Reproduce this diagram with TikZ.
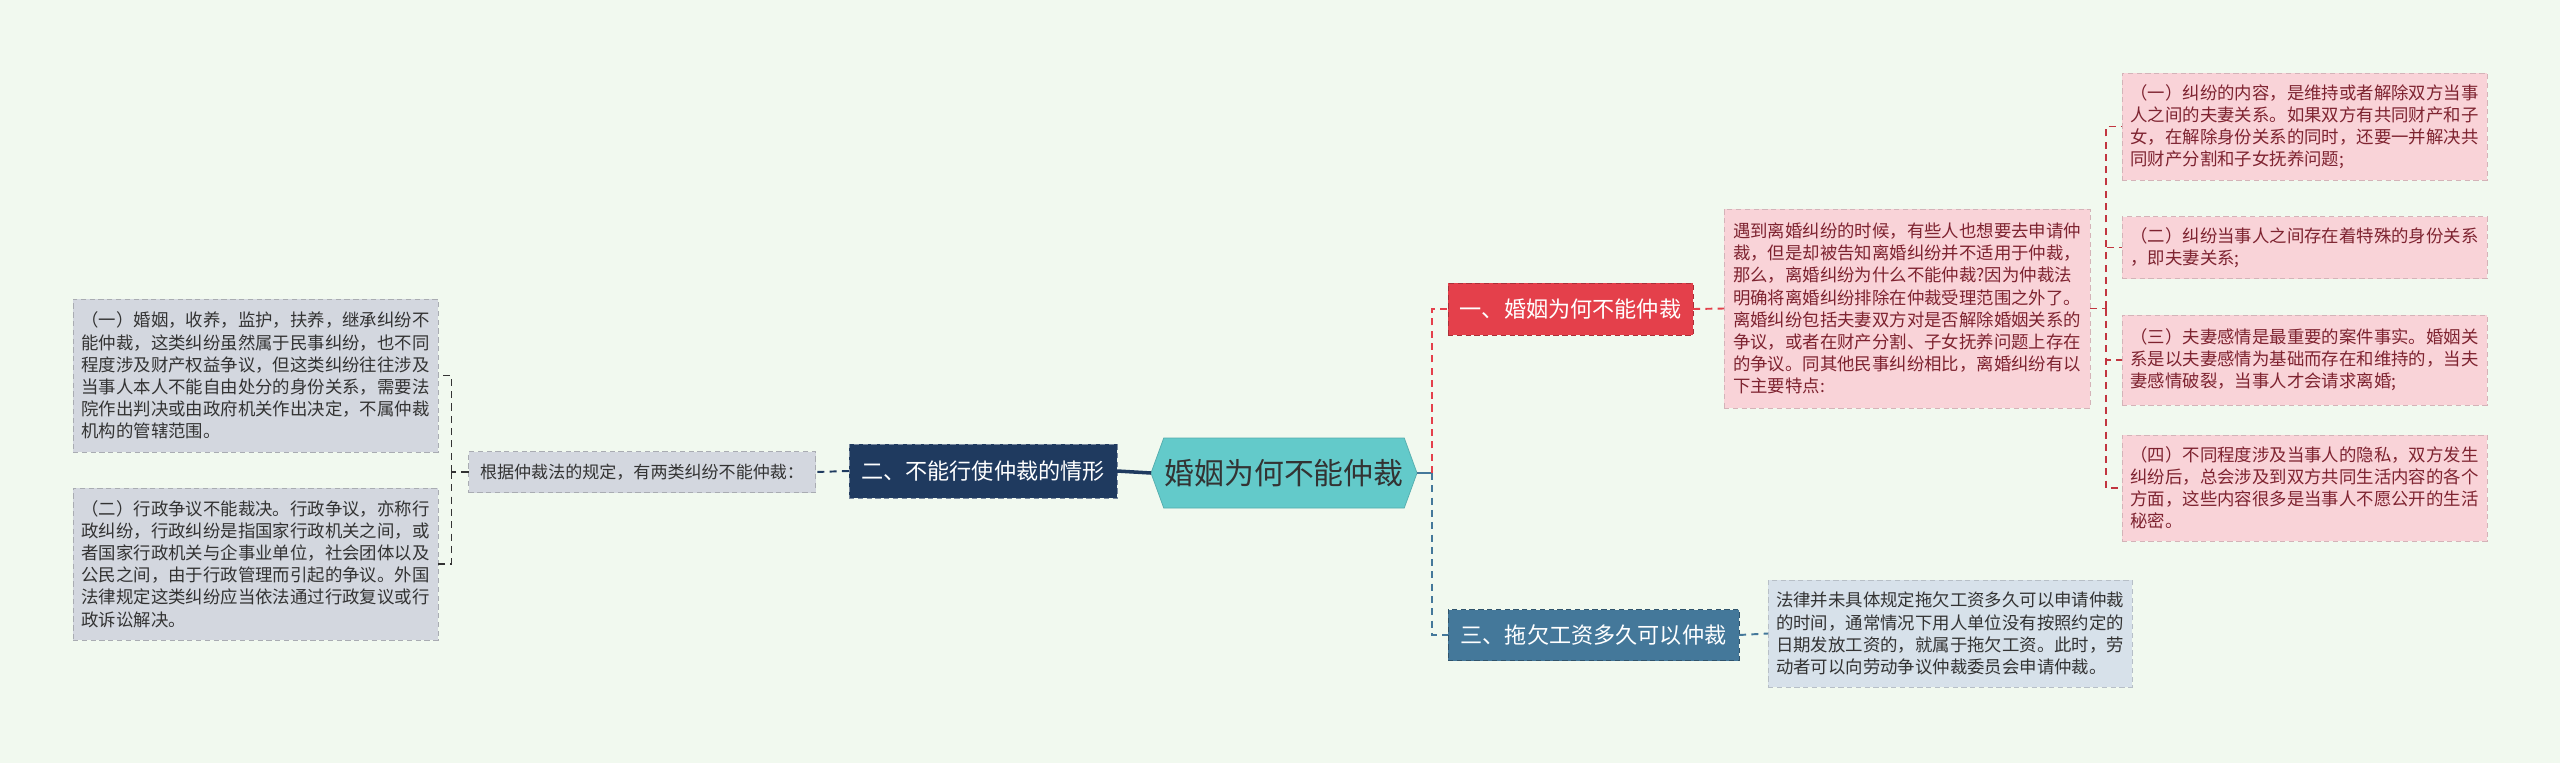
\documentclass[tikz,border=0pt]{standalone}
\usepackage{fontspec}
\setmainfont{Noto Sans CJK SC}
\usetikzlibrary{shapes.symbols}

\definecolor{bgmint}{HTML}{F1F9EF}
\definecolor{hubteal}{HTML}{63CACA}
\definecolor{navy}{HTML}{1F3A5F}
\definecolor{redsec}{HTML}{E4404B}
\definecolor{pinkbox}{HTML}{F9D3D8}
\definecolor{pinktext}{HTML}{7E2330}
\definecolor{steel}{HTML}{44789A}
\definecolor{greybox}{HTML}{D3D7DF}
\definecolor{bluebox}{HTML}{D7E1EA}
\definecolor{darktext}{HTML}{333333}

\begin{document}
\begin{tikzpicture}
[
	every node/.style={inner sep=0pt, outer sep=0pt},
	textbox/.style={rectangle, draw, dash pattern=on 3pt off 2pt, align=left,
		font=\fontsize{9.9pt}{12.6pt}\selectfont},
	secbox/.style={rectangle, draw, dash pattern=on 3pt off 2pt, text=white,
		font=\fontsize{12.6pt}{15pt}\selectfont},
	conn/.style={dash pattern=on 4pt off 3pt, line width=1.1pt}
]

	% background
	\fill[bgmint] (0,0) rectangle (51.2,-15.26);
	\useasboundingbox (0,0) rectangle (51.2,-15.26);

	% centre
	\node[signal, signal to=east and west, signal pointer angle=140,
		fill=hubteal, draw=hubteal!85!black, text=darktext,
		minimum width=5.32cm, minimum height=1.4cm,
		font=\fontsize{17pt}{20pt}\selectfont] (hub) at (25.68,-9.46) {婚姻为何不能仲裁};

	% left branch
	\node[secbox, fill=navy, draw=navy!60!white, minimum width=5.36cm, minimum height=1.08cm]
		(sec2) at (19.66,-9.42) {二、不能行使仲裁的情形};
	\node[textbox, fill=greybox, draw=greybox!80!black, text=darktext,
		minimum width=6.94cm, minimum height=0.82cm, font=\fontsize{9.7pt}{12pt}\selectfont]
		(rule) at (12.84,-9.44) {根据仲裁法的规定，有两类纠纷不能仲裁：};
	\node[textbox, fill=greybox, draw=greybox!80!black, text=darktext,
		minimum width=7.3cm, minimum height=3.06cm] (kind1) at (5.11,-7.51)
		{（一）婚姻，收养，监护，扶养，继承纠纷不\\
		能仲裁，这类纠纷虽然属于民事纠纷，也不同\\
		程度涉及财产权益争议，但这类纠纷往往涉及\\
		当事人本人不能自由处分的身份关系，需要法\\
		院作出判决或由政府机关作出决定，不属仲裁\\
		机构的管辖范围。};
	\node[textbox, fill=greybox, draw=greybox!80!black, text=darktext,
		minimum width=7.3cm, minimum height=3.04cm] (kind2) at (5.11,-11.28)
		{（二）行政争议不能裁决。行政争议，亦称行\\
		政纠纷，行政纠纷是指国家行政机关之间，或\\
		者国家行政机关与企事业单位，社会团体以及\\
		公民之间，由于行政管理而引起的争议。外国\\
		法律规定这类纠纷应当依法通过行政复议或行\\
		政诉讼解决。};

	% right branch, part one
	\node[secbox, fill=redsec, draw=redsec!75!black, minimum width=4.9cm, minimum height=1.04cm]
		(sec1) at (31.41,-6.18) {一、婚姻为何不能仲裁};
	\node[textbox, fill=pinkbox, draw=pinkbox!85!black, text=pinktext,
		minimum width=7.32cm, minimum height=3.98cm] (why) at (38.14,-6.17)
		{遇到离婚纠纷的时候，有些人也想要去申请仲\\
		裁，但是却被告知离婚纠纷并不适用于仲裁，\\
		那么，离婚纠纷为什么不能仲裁?因为仲裁法\\
		明确将离婚纠纷排除在仲裁受理范围之外了。\\
		离婚纠纷包括夫妻双方对是否解除婚姻关系的\\
		争议，或者在财产分割、子女抚养问题上存在\\
		的争议。同其他民事纠纷相比，离婚纠纷有以\\
		下主要特点:};
	\node[textbox, fill=pinkbox, draw=pinkbox!85!black, text=pinktext,
		minimum width=7.3cm, minimum height=2.14cm] (pt1) at (46.09,-2.53)
		{（一）纠纷的内容，是维持或者解除双方当事\\
		人之间的夫妻关系。如果双方有共同财产和子\\
		女，在解除身份关系的同时，还要一并解决共\\
		同财产分割和子女抚养问题;};
	\node[textbox, fill=pinkbox, draw=pinkbox!85!black, text=pinktext,
		minimum width=7.3cm, minimum height=1.24cm] (pt2) at (46.09,-4.95)
		{（二）纠纷当事人之间存在着特殊的身份关系\\
		，即夫妻关系;};
	\node[textbox, fill=pinkbox, draw=pinkbox!85!black, text=pinktext,
		minimum width=7.3cm, minimum height=1.8cm] (pt3) at (46.09,-7.2)
		{（三）夫妻感情是最重要的案件事实。婚姻关\\
		系是以夫妻感情为基础而存在和维持的，当夫\\
		妻感情破裂，当事人才会请求离婚;};
	\node[textbox, fill=pinkbox, draw=pinkbox!85!black, text=pinktext,
		minimum width=7.3cm, minimum height=2.12cm] (pt4) at (46.09,-9.76)
		{（四）不同程度涉及当事人的隐私，双方发生\\
		纠纷后，总会涉及到双方共同生活内容的各个\\
		方面，这些内容很多是当事人不愿公开的生活\\
		秘密。};

	% right branch, part three
	\node[secbox, fill=steel, draw=steel!70!black, minimum width=5.82cm, minimum height=1.02cm]
		(sec3) at (31.87,-12.7) {三、拖欠工资多久可以仲裁};
	\node[textbox, fill=bluebox, draw=bluebox!85!black, text=darktext,
		minimum width=7.28cm, minimum height=2.14cm] (wage) at (39.0,-12.67)
		{法律并未具体规定拖欠工资多久可以申请仲裁\\
		的时间，通常情况下用人单位没有按照约定的\\
		日期发放工资的，就属于拖欠工资。此时，劳\\
		动者可以向劳动争议仲裁委员会申请仲裁。};

	% connectors
	\draw[navy, line width=2pt] (hub.west) -- (sec2.east);
	\draw[conn, navy] (sec2.west) -- (rule.east);
	\draw[conn, darktext] (rule.west) -- ++(-0.34,0) coordinate (lb);
	\draw[conn, darktext] (lb) |- (kind1.east);
	\draw[conn, darktext] (lb) |- (kind2.east);

	\draw[steel, line width=1.5pt] (hub.east) -- ++(0.3,0) coordinate (rt);
	\draw[conn, redsec] (rt) |- (sec1.west);
	\draw[conn, steel] (rt) |- (sec3.west);

	\draw[conn, redsec] (sec1.east) -- (why.west);
	\draw[conn, redsec!85!black] (why.east) -- ++(0.32,0) coordinate (rb);
	\foreach \pt in {pt1,pt2,pt3,pt4}
		\draw[conn, redsec!85!black] (rb) |- (\pt.west);

	\draw[conn, steel] (sec3.east) -- (wage.west);

\end{tikzpicture}
\end{document}
